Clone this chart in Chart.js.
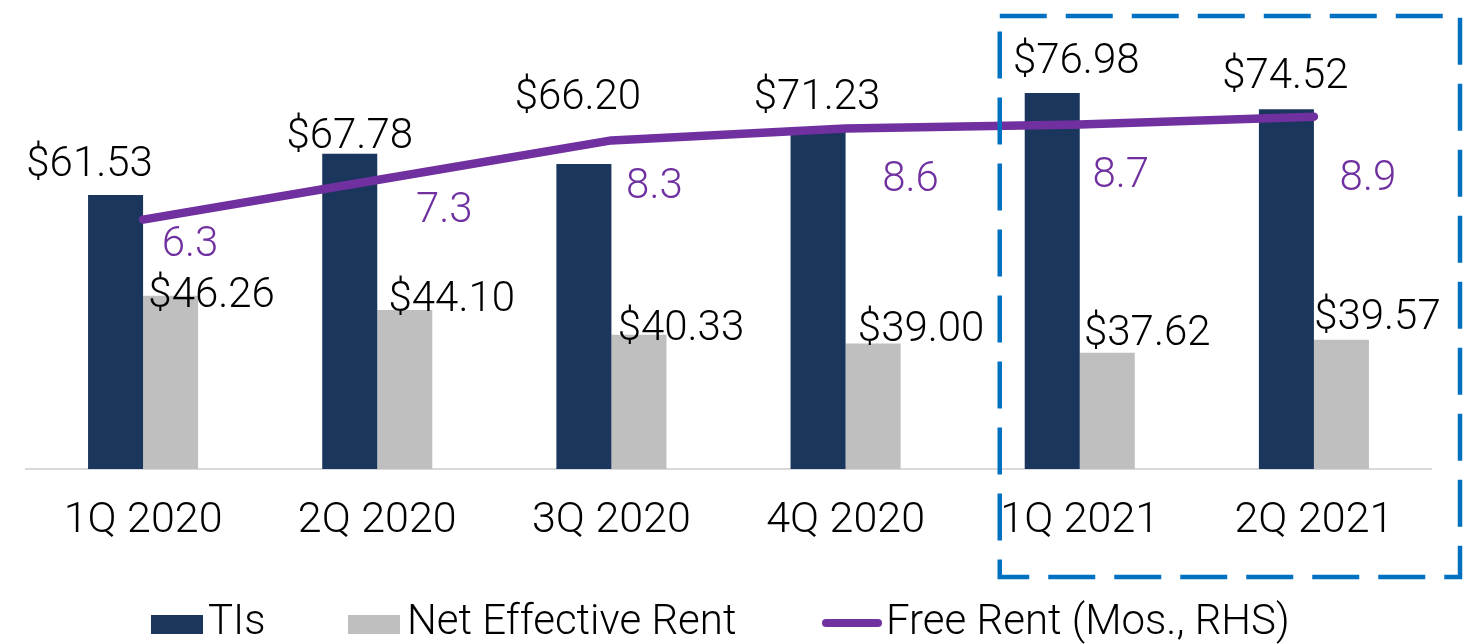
<!DOCTYPE html>
<html>
<head>
<meta charset="utf-8">
<script src="https://cdn.jsdelivr.net/npm/chart.js@4"></script>
<style>
  body { margin: 0; background: #fff; }
</style>
</head>
<body>
<canvas id="canvas" width="1482" height="644"></canvas>
<script>
// DATA
const quarters = ['1Q 2020', '2Q 2020', '3Q 2020', '4Q 2020', '1Q 2021', '2Q 2021'];
const tis = [61.53, 67.78, 66.20, 71.23, 76.98, 74.52];
const netEffRent = [46.26, 44.10, 40.33, 39.00, 37.62, 39.57];
const freeRent = [6.3, 7.3, 8.3, 8.6, 8.7, 8.9];

// label nudges (label centre relative to bar top / line point), hand placed like the original
const tiNudge = [[-26, -34], [0, -21], [-6, -70], [-1, -37], [24, -35], [-1, -36]];
const nerNudge = [[41, -4], [47, -14], [42, -10], [48, -18], [40, -23], [36, -26]];
const frNudge = [[47, 21], [67, 27], [43, 43], [65, 48], [41, 48], [54, 58]];

const NAVY = '#1A365D';
const GRAY = '#BFBFBF';
const PURPLE = '#7030A0';
const FONT = 'Roboto, "Noto Sans", sans-serif';

// DRAW VALUE LABELS
const valueLabels = {
    id: 'valueLabels',
    afterDatasetsDraw(chart) {
        const ctx = chart.ctx;
        const size = 42;
        ctx.save();
        ctx.font = '300 ' + size + 'px ' + FONT;
        ctx.textAlign = 'center';
        ctx.textBaseline = 'alphabetic';
        chart.data.datasets.forEach((ds, di) => {
            chart.getDatasetMeta(di).data.forEach((el, i) => {
                const [dx, dy] = ds.nudge[i];
                ctx.fillStyle = ds.labelColor;
                ctx.fillText(ds.fmt(ds.data[i]), el.x + dx, el.y + dy + size * 0.355);
            });
        });
        ctx.restore();
    }
};

// LEGEND + DASHED BOX
const extras = {
    id: 'extras',
    afterDraw(chart) {
        const ctx = chart.ctx;
        const x = chart.scales.x;
        ctx.save();

        // dashed box round the 2021 quarters
        ctx.strokeStyle = '#0070C0';
        ctx.lineWidth = 4.5;
        ctx.setLineDash([47, 19]);
        const left = x.getPixelForValue(4) - 80;
        const right = chart.chartArea.right + 29;
        ctx.strokeRect(left, 16, right - left, 561);
        ctx.setLineDash([]);

        // legend
        ctx.font = '300 42px ' + FONT;
        ctx.textBaseline = 'alphabetic';
        ctx.textAlign = 'left';
        ctx.fillStyle = NAVY;
        ctx.fillRect(151, 615, 52, 19);
        ctx.fillStyle = GRAY;
        ctx.fillRect(348, 615, 52, 19);
        ctx.strokeStyle = PURPLE;
        ctx.lineWidth = 8;
        ctx.lineCap = 'round';
        ctx.beginPath();
        ctx.moveTo(826, 623);
        ctx.lineTo(878, 623);
        ctx.stroke();
        ctx.fillStyle = '#000';
        ctx.fillText('TIs', 208, 634);
        ctx.fillText('Net Effective Rent', 407, 634);
        ctx.fillText('Free Rent (Mos., RHS)', 886, 634);
        ctx.restore();
    }
};

const ctx = document.getElementById('canvas').getContext('2d');

const myChart = new Chart(ctx, {
    type: 'bar',
    data: {
        labels: quarters,
        datasets: [{
            type: 'line',
            label: 'Free Rent (Mos., RHS)',
            data: freeRent,
            yAxisID: 'y1',
            borderColor: PURPLE,
            borderWidth: 8.5,
            borderCapStyle: 'round',
            borderJoinStyle: 'round',
            pointRadius: 0,
            tension: 0,
            order: 0,
            nudge: frNudge,
            labelColor: PURPLE,
            fmt: v => v.toFixed(1)
        }, {
            label: 'TIs',
            data: tis,
            backgroundColor: NAVY,
            order: 1,
            nudge: tiNudge,
            labelColor: '#000',
            fmt: v => '$' + v.toFixed(2)
        }, {
            label: 'Net Effective Rent',
            data: netEffRent,
            backgroundColor: GRAY,
            order: 2,
            nudge: nerNudge,
            labelColor: '#000',
            fmt: v => '$' + v.toFixed(2)
        }]
    },
    options: {
        responsive: false,
        animation: false,
        devicePixelRatio: 1,
        layout: { padding: { left: 26, right: 51, top: 7, bottom: 0 } },
        datasets: {
            bar: { barPercentage: 1, categoryPercentage: 0.47 }
        },
        plugins: {
            legend: { display: false },
            tooltip: { enabled: false }
        },
        scales: {
            x: {
                grid: { display: false, drawTicks: false },
                border: { display: true, color: '#D9D9D9', width: 2 },
                ticks: {
                    color: '#000',
                    font: { family: FONT, size: 43, weight: '300' },
                    padding: 26,
                    maxRotation: 0,
                    autoSkip: false
                },
                afterFit: s => { s.height = 175; }
            },
            y: {
                display: false,
                min: 20,
                max: 90
            },
            y1: {
                display: false,
                position: 'right',
                min: 0,
                max: 11.67
            }
        }
    },
    plugins: [valueLabels, extras]
});
</script>
</body>
</html>
